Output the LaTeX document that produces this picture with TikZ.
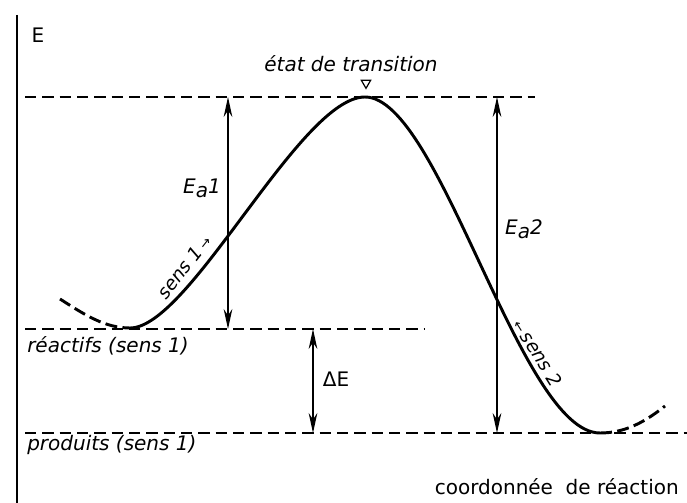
\documentclass[tikz,border=0pt]{standalone}
\usepackage{fontspec}
\setmainfont{DejaVu Sans}
\usetikzlibrary{arrows.meta}
\usetikzlibrary{shapes.geometric}

\tikzset{
  niveau/.style={line width=1.3pt, dash pattern=on 8.5pt off 4.5pt},
  courbe/.style={line width=2.2pt},
  courbepointillee/.style={line width=2.2pt, dash pattern=on 9pt off 4pt},
  fleche/.style={line width=0.9pt, {Stealth[length=15pt,width=6.5pt]}-{Stealth[length=15pt,width=6.5pt]}},
  etiquette/.style={inner sep=0.75pt, font=\fontsize{15}{18}\selectfont\itshape},
  etiquettedroite/.style={inner sep=0.75pt, font=\fontsize{15}{18}\selectfont},
  sens/.style={inner sep=0.75pt, font=\fontsize{14}{16}\selectfont\itshape},
}

\begin{document}
\begin{tikzpicture}[x=0.75pt,y=0.75pt,yscale=-1,xscale=1]
\useasboundingbox (0,0) rectangle (687,503);

%Shape: Axis
\draw [line width=1.6pt] (17,15) -- (17,503) ;

% Levels
\coordinate (ea1haut) at (228,97) ;
\coordinate (ea1bas) at (228,329) ;
\coordinate (dehaut) at (313,329) ;
\coordinate (debas) at (313,433) ;
\coordinate (ea2haut) at (497,97) ;
\coordinate (ea2bas) at (497,433) ;

%Shape: Dashed lines
\draw [niveau] (25,97) -- (535,97) ;
\draw [niveau] (25,329) -- (425,329) ;
\draw [niveau] (25,433) -- (687,433) ;

%Shape: Curve
\draw [courbepointillee] (60,299) .. controls (85,315) and (105,328) .. (130,328) ;
\draw [courbe] (130,328) .. controls (190,328) and (300,97) .. (365,97) .. controls (440,97) and (520,433) .. (600,433) ;
\draw [courbepointillee] (600,433) .. controls (625,433) and (645,422) .. (665,406) ;

%Shape: Arrows
\draw [fleche] (ea1bas) -- (ea1haut) ;
\draw [fleche] (debas) -- (dehaut) ;
\draw [fleche] (ea2bas) -- (ea2haut) ;

%Shape: Triangle
\node [regular polygon, regular polygon sides=3, shape border rotate=180, draw, line width=0.9pt, minimum size=8pt, inner sep=0pt] (sommet) at (366,83) {} ;

% Text Node
\node [etiquettedroite] (energie) at (38,35) {E} ;
% Text Node
\node [etiquette] (transition) at (351,64) {état de transition} ;
% Text Node
\node [etiquette] (ea1) at (202,188) {E\raisebox{-0.35ex}{a}1} ;
% Text Node
\node [etiquette] (ea2) at (524,229) {E\raisebox{-0.35ex}{a}2} ;
% Text Node
\node [etiquettedroite] (deltae) at (336,379) {ΔE} ;
% Text Node
\node [etiquette, anchor=west] (reactifs) at (26,346) {réactifs (sens 1)} ;
% Text Node
\node [etiquette, anchor=west] (produits) at (26,445) {produits (sens 1)} ;
% Text Node
\node [etiquettedroite, anchor=east] (coordonnee) at (680,487) {coordonnée\ \ de\ réaction} ;
% Text Node
\node [sens, rotate=52] (sens1) at (184,267) {sens 1\,{\fontsize{10}{12}\selectfont →}} ;
% Text Node
\node [sens, rotate=-58] (sens2) at (538,353) {{\fontsize{10}{12}\selectfont ←}\,sens 2} ;

\end{tikzpicture}
\end{document}
